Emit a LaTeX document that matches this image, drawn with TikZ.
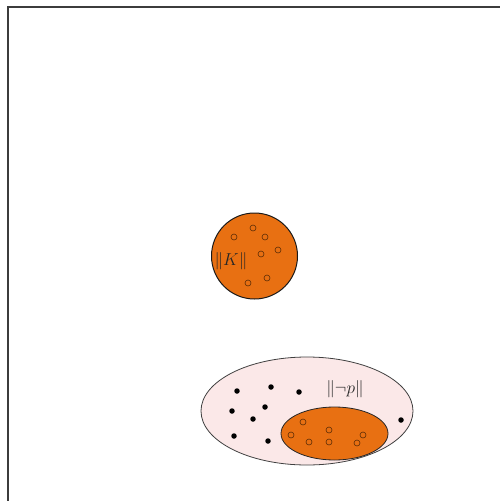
\documentclass[tikz,border=0pt]{standalone}
\usepackage{amssymb}
\definecolor{orng}{RGB}{232,112,18}
\definecolor{pnk}{RGB}{251,232,232}
\definecolor{framegray}{RGB}{60,60,60}
\begin{document}
\begin{tikzpicture}[x=1pt,y=-1pt,
  opendot/.style={circle,draw=black!60!orng,line width=0.6pt,inner sep=0pt,minimum size=6pt},
  blackdot/.style={circle,fill=black,inner sep=0pt,minimum size=5.5pt},
  lbl/.style={inner sep=0pt,font=\fontsize{17}{19}\selectfont, text=black!85}]
\useasboundingbox (0,0) rectangle (499,501);
\draw[framegray,line width=1.4pt] (8,502) -- (8,7) -- (500,7);
% K circle
\node[circle,draw=black!90,line width=1pt,fill=orng,minimum size=86pt,inner sep=0pt] (K) at (254.5,256) {};
\node[lbl] (Klbl) at (231,261) {$\|K\|$};
\foreach \n/\p in {k1/{(253,228)},k2/{(234,237)},k3/{(265,237)},k4/{(278,250)},k5/{(261,254)},k6/{(267,278)},k7/{(248,283)}}
  \node[opendot] (\n) at \p {};
% outer ellipse
\draw[black!75,line width=0.8pt,fill=pnk] (307,411) ellipse [x radius=106, y radius=54];
\coordinate (E) at (307,411);
\draw[black!85,line width=0.8pt,fill=orng] (334.5,433.5) ellipse [x radius=53.5, y radius=26.5];
\coordinate (F) at (334.5,433.5);
\node[lbl] (plbl) at (345,389) {$\|\neg p\|$};
\foreach \n/\p in {b1/{(237,391)},b2/{(271,387)},b3/{(299,392)},b4/{(232,411)},b5/{(265,407)},b6/{(253,419)},b7/{(234,436)},b8/{(268,441)},b9/{(401,420)}}
  \node[blackdot] (\n) at \p {};
\foreach \n/\p in {o1/{(303,422)},o2/{(329,430)},o3/{(291,435)},o4/{(309,442)},o5/{(329,442)},o6/{(357,443)},o7/{(363,435)}}
  \node[opendot] (\n) at \p {};
\end{tikzpicture}
\end{document}
